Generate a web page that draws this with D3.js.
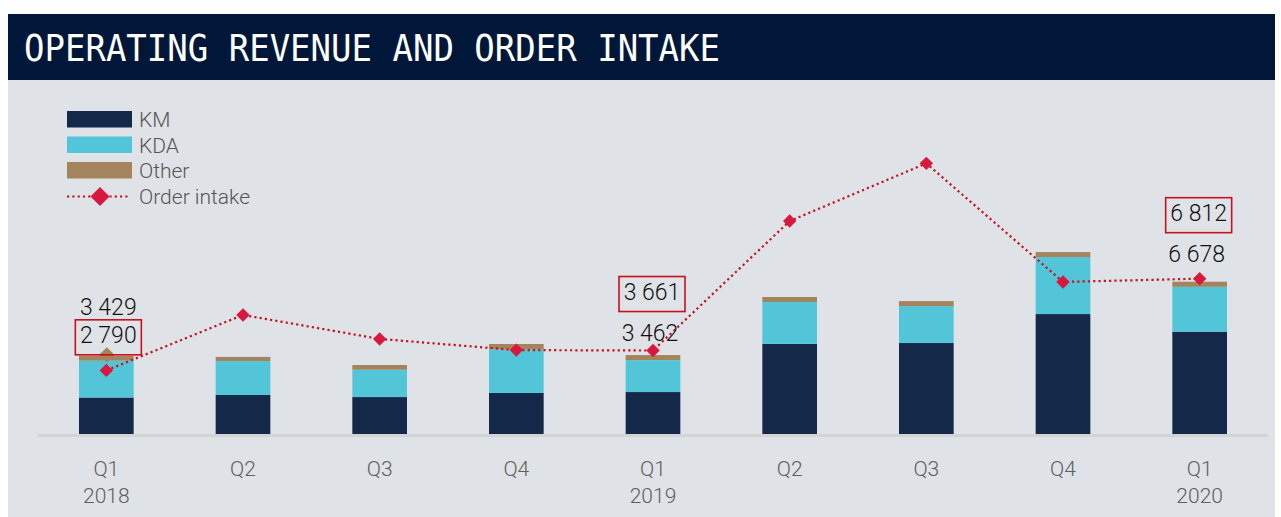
<!DOCTYPE html>
<html>
<head>
<meta charset="utf-8">
<script src="https://cdn.jsdelivr.net/npm/d3@7"></script>
<style>
  html, body { margin: 0; padding: 0; background: #ffffff; }
  svg { display: block; }
</style>
</head>
<body>
<svg id="chart" width="1281" height="517"></svg>
<script>
// ---- data ----
const quarters = ["Q1", "Q2", "Q3", "Q4", "Q1", "Q2", "Q3", "Q4", "Q1"];
const years    = ["2018", "", "", "", "2019", "", "", "", "2020"];
const km       = [1600, 1710, 1620, 1800, 1840, 3950, 3990, 5260, 4490];
const kda      = [1615, 1490, 1200, 1915, 1400, 1840, 1620, 2500, 1965];
const other    = [214, 180, 206, 232, 222, 219, 219, 220, 223];
const orderIntake = [2790, 5220, 4170, 3680, 3661, 9340, 11870, 6670, 6812];
const revenueLabels = ["3 429", "", "", "", "3 462", "", "", "", "6 678"];
const orderLabels   = ["2 790", "", "", "", "3 661", "", "", "", "6 812"];
const seriesNames = ["KM", "KDA", "Other"];
const seriesColors = ["#142849", "#53c5d9", "#a4845d"];
const lineName = "Order intake";
const title = "OPERATING REVENUE AND ORDER INTAKE";

// ---- drawing ----
const svg = d3.select("#chart");
const W = 1281, H = 517;

// backgrounds
svg.append("rect").attr("x", 8).attr("y", 80).attr("width", 1267).attr("height", H - 80).attr("fill", "#dfe2e6");
svg.append("rect").attr("x", 8).attr("y", 14).attr("width", 1267).attr("height", 66).attr("fill", "#01173a");
svg.append("text")
  .attr("x", 24).attr("y", 61)
  .attr("font-family", "DejaVu Sans Mono, Liberation Mono, monospace")
  .attr("font-size", 37)
  .attr("textLength", 696).attr("lengthAdjust", "spacingAndGlyphs")
  .attr("fill", "#ffffff")
  .text(title);

const idx = quarters.map((d, i) => i);
const x = d3.scaleBand().domain(idx).range([38, 1268]).paddingInner(0.6).paddingOuter(0.3);
const y = d3.scaleLinear().domain([0, 15000]).range([434, 92]);

// stacked bars
const rows = idx.map(i => ({ i, KM: km[i], KDA: kda[i], Other: other[i] }));
const stack = d3.stack().keys(seriesNames)(rows);
const color = d3.scaleOrdinal().domain(seriesNames).range(seriesColors);

// baseline
svg.append("line").attr("x1", 38).attr("x2", 1268).attr("y1", y(0) + 1.5).attr("y2", y(0) + 1.5)
  .attr("stroke", "#d2d3d5").attr("stroke-width", 3);

svg.append("g").selectAll("g").data(stack).join("g")
  .attr("fill", d => color(d.key))
  .selectAll("rect").data(d => d).join("rect")
  .attr("x", d => x(d.data.i))
  .attr("width", x.bandwidth())
  .attr("y", d => y(d[1]))
  .attr("height", d => y(d[0]) - y(d[1]));

// small "Other" marker visible on first bar
const total0 = km[0] + kda[0] + other[0];
svg.append("path")
  .attr("d", d3.symbol().type(d3.symbolDiamond2).size(150)())
  .attr("transform", `translate(${x(0) + x.bandwidth() / 2 + 0.5},${y(total0) - 1})`)
  .attr("fill", "#a4845d");

// order intake line
const cx = i => x(i) + x.bandwidth() / 2;
const line = d3.line().x((d, i) => cx(i)).y(d => y(d));
svg.append("path").datum(orderIntake)
  .attr("d", line)
  .attr("fill", "none")
  .attr("stroke", "#c8101f")
  .attr("stroke-width", 2.2)
  .attr("stroke-dasharray", "2.2,3.1");

const diamond = d3.symbol().type(d3.symbolSquare).size(90)();
svg.append("g").selectAll("path").data(orderIntake).join("path")
  .attr("d", diamond)
  .attr("transform", (d, i) => `translate(${cx(i)},${y(d)}) rotate(45)`)
  .attr("fill", "#d8183f");

// x axis
const xAxis = d3.axisBottom(x).tickSize(0).tickFormat(i => quarters[i]);
const gx = svg.append("g").attr("transform", `translate(0,${y(0)})`).call(xAxis);
gx.select(".domain").remove();
gx.selectAll(".tick text")
  .attr("font-family", "Roboto, sans-serif")
  .attr("font-weight", 300)
  .attr("font-size", 21)
  .attr("fill", "#5e5e5e")
  .attr("dy", null)
  .attr("y", 42);
gx.selectAll(".tick").append("text")
  .attr("font-family", "Roboto, sans-serif")
  .attr("font-weight", 300)
  .attr("font-size", 21)
  .attr("fill", "#5e5e5e")
  .attr("text-anchor", "middle")
  .attr("y", 69)
  .text(i => years[i]);

// annotations
const labelFont = "Roboto, sans-serif";
function boxedLabel(cxv, baseline, txt) {
  svg.append("rect")
    .attr("x", cxv - 33).attr("y", baseline - 23)
    .attr("width", 66).attr("height", 35)
    .attr("fill", "none").attr("stroke", "#c8101f").attr("stroke-width", 1.6);
  svg.append("text").attr("x", cxv).attr("y", baseline)
    .attr("text-anchor", "middle").attr("font-family", labelFont).attr("font-weight", 300)
    .attr("font-size", 23).attr("fill", "#111111").text(txt);
}
function plainLabel(cxv, baseline, txt) {
  svg.append("text").attr("x", cxv).attr("y", baseline)
    .attr("text-anchor", "middle").attr("font-family", labelFont).attr("font-weight", 300)
    .attr("font-size", 23).attr("fill", "#111111").text(txt);
}
idx.forEach(i => {
  if (!orderLabels[i]) return;
  const total = km[i] + kda[i] + other[i];
  const c = cx(i);
  if (orderIntake[i] < total) {
    // box right above the bar, revenue label above the box
    const top = y(total);
    boxedLabel(c + 2, top - 13, orderLabels[i]);
    plainLabel(c + 2, top - 41, revenueLabels[i]);
  } else {
    const top = y(orderIntake[i]);
    const off = i === 8 ? 17 : 10;
    plainLabel(c - 3, top - off, revenueLabels[i]);
    boxedLabel(c - 1, top - off - 41, orderLabels[i]);
  }
});

// legend
const lg = svg.append("g");
seriesNames.forEach((s, k) => {
  lg.append("rect").attr("x", 67).attr("y", 111 + k * 25.5).attr("width", 65).attr("height", 16.5)
    .attr("fill", seriesColors[k]);
  lg.append("text").attr("x", 139).attr("y", 127 + k * 25.5)
    .attr("font-family", "Roboto, sans-serif").attr("font-weight", 300)
    .attr("font-size", 21).attr("fill", "#555555")
    .text(s);
});
lg.append("line").attr("x1", 67).attr("x2", 130).attr("y1", 196.5).attr("y2", 196.5)
  .attr("stroke", "#c8101f").attr("stroke-width", 2.2).attr("stroke-dasharray", "2.2,3.1");
lg.append("path").attr("d", d3.symbol().type(d3.symbolSquare).size(180)())
  .attr("transform", "translate(100,196.5) rotate(45)").attr("fill", "#d8183f");
lg.append("text").attr("x", 139).attr("y", 204)
  .attr("font-family", "Roboto, sans-serif").attr("font-weight", 300)
  .attr("font-size", 21).attr("fill", "#555555")
  .text(lineName);
</script>
</body>
</html>
